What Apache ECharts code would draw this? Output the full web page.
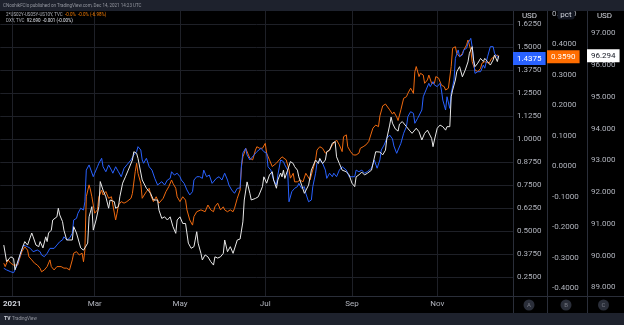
<!DOCTYPE html>
<html>
<head>
<meta charset="utf-8">
<script src="https://cdn.jsdelivr.net/npm/echarts@6/dist/echarts.min.js"></script>
<style>
  html, body { margin: 0; padding: 0; background: #000; }
  #chart { width: 624px; height: 325px; }
</style>
</head>
<body>
<div id="chart"></div>
<script>
// x values are days counted from 1 Jan 2021
const monthTicks = [0, 59, 120, 181, 243, 304];
const monthLabels = ['2021', 'Mar', 'May', 'Jul', 'Sep', 'Nov'];

const usdTicks = [0.25, 0.375, 0.5, 0.625, 0.75, 0.875, 1.0, 1.125, 1.25, 1.375, 1.5, 1.625];
const pctTicks = [-0.4, -0.3, -0.2, -0.1, 0, 0.1, 0.2, 0.3, 0.4, 0.5];
const dxyTicks = [89, 90, 91, 92, 93, 94, 95, 96, 97];

// blue line, USD scale (A)
const blueLine = [
[-6,0.299],[-4,0.290],[-1,0.280],[1,0.275],[2,0.290],[4,0.326],[6,0.380],[8,0.425],[9,0.435],[11,0.416],[13,0.407],[15,0.389],[16,0.398],[18,0.398],[20,0.389],[21,0.371],[23,0.362],[25,0.380],[27,0.407],[28,0.416],[30,0.407],[32,0.425],[34,0.443],[36,0.453],[37,0.470],[39,0.453],[41,0.462],[43,0.489],[44,0.561],[46,0.570],[47,0.597],[49,0.625],[51,0.615],[52,0.660],[53,0.832],[55,0.860],[56,0.850],[58,0.796],[59,0.815],[61,0.850],[62,0.869],[64,0.896],[65,0.850],[67,0.823],[69,0.860],[71,0.832],[72,0.815],[74,0.850],[76,0.823],[78,0.796],[80,0.842],[82,0.860],[83,0.850],[85,0.887],[87,0.914],[89,0.932],[90,0.959],[92,0.941],[93,0.887],[94,0.869],[96,0.896],[98,0.850],[100,0.832],[102,0.787],[104,0.751],[105,0.760],[107,0.769],[109,0.751],[111,0.778],[113,0.787],[114,0.823],[116,0.805],[118,0.815],[120,0.796],[121,0.778],[123,0.760],[125,0.724],[127,0.697],[129,0.715],[130,0.778],[132,0.796],[134,0.796],[136,0.787],[137,0.832],[139,0.796],[141,0.805],[143,0.760],[144,0.769],[146,0.787],[148,0.796],[150,0.778],[152,0.815],[154,0.778],[155,0.751],[157,0.724],[159,0.706],[161,0.733],[163,0.735],[164,0.860],[165,0.925],[167,0.950],[168,0.914],[170,0.887],[171,0.896],[173,0.914],[175,0.932],[176,0.932],[178,0.950],[180,0.932],[182,0.923],[183,0.850],[185,0.832],[187,0.778],[189,0.751],[190,0.805],[192,0.887],[194,0.878],[195,0.860],[197,0.832],[198,0.660],[200,0.715],[202,0.733],[204,0.742],[205,0.760],[207,0.733],[209,0.742],[210,0.706],[212,0.660],[214,0.670],[215,0.742],[217,0.815],[218,0.869],[220,0.887],[222,0.869],[224,0.832],[225,0.787],[227,0.815],[229,0.796],[230,0.815],[232,0.796],[234,0.832],[236,0.850],[237,0.842],[239,0.832],[241,0.796],[243,0.796],[245,0.796],[246,0.832],[248,0.823],[250,0.832],[252,0.815],[254,0.823],[255,0.832],[257,0.842],[259,0.887],[260,0.878],[261,0.842],[263,0.887],[264,0.941],[266,0.968],[268,1.005],[270,1.022],[272,1.001],[273,0.963],[275,0.923],[276,0.941],[278,0.977],[280,1.032],[282,1.068],[283,1.122],[285,1.149],[287,1.140],[288,1.086],[290,1.113],[291,1.122],[293,1.158],[294,1.230],[296,1.267],[298,1.303],[299,1.285],[301,1.312],[302,1.294],[304,1.285],[306,1.303],[307,1.267],[308,1.212],[310,1.158],[311,1.230],[313,1.167],[314,1.249],[316,1.321],[317,1.439],[319,1.484],[320,1.447],[322,1.457],[323,1.484],[325,1.493],[326,1.520],[328,1.547],[329,1.502],[330,1.430],[331,1.357],[333,1.366],[335,1.366],[337,1.402],[338,1.385],[340,1.447],[342,1.502],[344,1.502],[345,1.466],[347,1.447],[348,1.4375]
];

// orange line, pct scale (B)
const spreadLine = [
[-6,-0.318],[-5,-0.329],[-3,-0.307],[-1,-0.318],[1,-0.324],[2,-0.329],[4,-0.324],[5,-0.307],[7,-0.280],[9,-0.264],[11,-0.275],[12,-0.297],[14,-0.307],[16,-0.318],[18,-0.324],[20,-0.335],[21,-0.346],[23,-0.340],[25,-0.329],[27,-0.307],[28,-0.329],[30,-0.340],[32,-0.329],[33,-0.335],[35,-0.329],[37,-0.334],[38,-0.329],[39,-0.334],[41,-0.340],[43,-0.307],[44,-0.285],[46,-0.280],[48,-0.291],[50,-0.285],[51,-0.313],[52,-0.275],[53,-0.100],[55,-0.061],[56,-0.078],[57,-0.100],[59,-0.154],[61,-0.143],[62,-0.100],[64,-0.078],[65,-0.094],[67,-0.083],[69,-0.105],[71,-0.100],[72,-0.127],[74,-0.176],[75,-0.154],[76,-0.127],[78,-0.116],[80,-0.121],[82,-0.116],[83,-0.111],[85,-0.105],[86,-0.089],[88,-0.018],[89,0.010],[90,-0.023],[92,-0.056],[93,-0.105],[94,-0.111],[96,-0.083],[98,-0.072],[99,-0.094],[101,-0.116],[103,-0.100],[105,-0.121],[106,-0.127],[108,-0.105],[110,-0.083],[112,-0.067],[114,-0.045],[115,-0.056],[117,-0.072],[118,-0.100],[120,-0.116],[122,-0.100],[124,-0.111],[125,-0.143],[127,-0.176],[129,-0.193],[130,-0.165],[132,-0.149],[133,-0.149],[135,-0.143],[136,-0.138],[138,-0.149],[140,-0.127],[142,-0.143],[144,-0.149],[145,-0.133],[147,-0.121],[149,-0.143],[151,-0.133],[152,-0.143],[154,-0.149],[156,-0.143],[158,-0.149],[159,-0.138],[161,-0.105],[163,-0.078],[164,-0.001],[165,0.031],[166,0.043],[167,0.059],[168,0.062],[170,0.026],[172,0.021],[174,0.053],[175,0.064],[177,0.059],[179,0.059],[181,0.075],[182,0.043],[184,0.021],[186,-0.001],[187,0.004],[189,0.010],[191,0.021],[193,0.031],[194,0.037],[196,0.021],[198,-0.012],[199,-0.039],[201,-0.023],[202,-0.051],[204,-0.051],[206,-0.045],[208,-0.051],[210,-0.023],[211,-0.029],[213,-0.045],[215,-0.012],[217,0.021],[218,0.053],[220,0.064],[222,0.059],[224,0.043],[225,0.048],[227,0.053],[229,0.070],[230,0.075],[232,0.086],[234,0.070],[236,0.048],[237,0.097],[239,0.103],[240,0.064],[242,0.048],[244,0.037],[246,0.037],[248,0.043],[249,0.059],[251,0.064],[253,0.070],[255,0.081],[256,0.086],[258,0.125],[260,0.135],[262,0.130],[263,0.165],[265,0.198],[267,0.204],[268,0.204],[270,0.185],[272,0.171],[273,0.178],[275,0.162],[276,0.150],[277,0.145],[278,0.185],[279,0.190],[280,0.223],[282,0.228],[283,0.239],[285,0.256],[287,0.239],[288,0.310],[289,0.327],[291,0.294],[292,0.305],[294,0.299],[295,0.272],[297,0.283],[298,0.299],[300,0.272],[302,0.272],[303,0.294],[305,0.289],[307,0.266],[308,0.266],[309,0.261],[310,0.250],[312,0.256],[313,0.261],[314,0.327],[315,0.387],[317,0.392],[318,0.370],[320,0.359],[322,0.370],[323,0.381],[325,0.398],[326,0.414],[327,0.398],[328,0.381],[329,0.343],[331,0.316],[333,0.310],[335,0.321],[336,0.338],[338,0.343],[339,0.348],[341,0.338],[343,0.354],[345,0.359],[347,0.365],[348,0.359]
];

// white line, DXY scale (C)
const dxyLine = [
[-6,90.33],[-4,89.81],[-1,89.96],[1,89.91],[2,89.55],[3,89.49],[6,90.08],[9,90.44],[11,90.33],[12,90.27],[14,90.71],[15,90.59],[17,90.33],[19,90.28],[20,90.44],[22,90.24],[24,90.59],[25,90.44],[26,90.71],[28,90.80],[29,91.12],[32,91.22],[33,91.49],[34,91.28],[36,91.07],[37,90.80],[39,90.49],[40,90.44],[43,90.49],[44,90.91],[46,90.71],[49,90.24],[51,90.17],[52,90.24],[54,90.39],[55,91.22],[57,91.54],[58,90.80],[60,91.12],[62,91.54],[63,92.33],[65,92.06],[67,91.85],[69,91.49],[70,91.75],[73,91.70],[74,91.49],[76,91.54],[77,91.85],[79,92.28],[81,92.48],[83,92.69],[86,93.01],[87,93.27],[89,93.22],[90,93.06],[93,92.38],[94,92.43],[96,92.12],[99,91.96],[101,91.75],[102,91.70],[104,91.75],[105,91.43],[107,91.17],[109,91.22],[111,91.12],[113,91.22],[115,90.91],[117,90.70],[118,91.12],[120,91.22],[122,91.01],[124,91.01],[126,90.39],[128,90.23],[130,90.28],[132,90.75],[133,90.39],[135,90.07],[136,89.86],[138,90.02],[140,89.96],[142,89.81],[144,89.70],[145,89.96],[147,89.92],[149,89.96],[151,90.07],[152,90.49],[154,90.12],[156,90.28],[158,90.07],[159,90.12],[161,90.49],[163,90.52],[165,91.06],[166,91.75],[168,92.32],[170,91.96],[171,91.75],[174,91.80],[176,91.85],[179,92.17],[180,92.48],[182,92.28],[184,92.54],[186,92.64],[187,92.38],[189,92.12],[190,92.38],[192,92.60],[193,92.48],[194,92.69],[195,92.43],[197,92.69],[199,92.96],[201,92.90],[202,92.80],[204,92.69],[205,92.48],[207,92.22],[209,91.96],[210,92.01],[212,92.22],[214,92.69],[215,92.80],[217,93.01],[219,92.90],[220,93.06],[222,92.90],[224,93.01],[225,93.27],[227,93.32],[229,93.54],[231,93.59],[232,93.11],[234,92.90],[236,92.69],[237,92.75],[239,92.64],[241,92.54],[243,92.28],[245,92.17],[246,92.48],[248,92.54],[250,92.63],[252,92.54],[254,92.59],[255,92.54],[257,92.69],[260,93.27],[261,93.22],[263,93.26],[265,93.17],[267,93.32],[268,93.70],[270,94.11],[271,94.36],[272,94.17],[274,93.99],[276,93.92],[277,94.14],[279,94.22],[280,94.27],[282,94.06],[284,93.95],[286,93.85],[287,93.80],[289,94.01],[291,93.90],[293,93.64],[295,93.85],[297,93.95],[298,93.90],[300,93.69],[301,93.43],[302,93.64],[304,94.01],[306,94.11],[308,94.06],[310,93.95],[311,94.06],[313,94.06],[314,95.00],[315,95.21],[317,95.53],[318,95.79],[320,95.95],[322,95.63],[324,95.84],[326,96.10],[327,96.37],[329,96.58],[330,96.16],[331,95.95],[333,96.06],[335,96.21],[337,96.11],[338,96.21],[340,96.11],[342,96.00],[344,96.16],[345,96.32],[347,96.11],[348,96.294]
];

const FONT = 'Roboto, "Noto Sans", sans-serif';
const TEXT = '#b2b5be';
const PANEL = '#1e222d';
const BORDER = '#2a2e39';
const GRIDLINE = '#1e2027';
const BLUE = '#2962ff';
const ORANGE = '#f06a0f';
const WHITE = '#e8e8e8';

const lastValue = arr => arr[arr.length - 1][1];

// price tag drawn on an axis at the series' last value
function priceTag(value, bg, fg, digits) {
  return {
    show: true,
    type: 'line',
    value: value,
    status: 'show',
    snap: false,
    triggerTooltip: false,
    lineStyle: { color: 'rgba(0,0,0,0)', width: 0 },
    handle: { show: false },
    label: {
      show: true,
      margin: 0,
      backgroundColor: bg,
      color: fg,
      fontFamily: FONT,
      fontSize: 8,
      padding: [3, 4, 2, 4],
      borderRadius: 0,
      formatter: p => Number(p.value).toFixed(digits)
    }
  };
}

function valueAxis(opts) {
  return {
    type: 'value',
    position: 'right',
    offset: opts.offset,
    min: opts.min,
    max: opts.max,
    scale: true,
    axisLine: { show: false },
    axisTick: { show: false, customValues: opts.ticks },
    splitLine: { show: opts.grid, lineStyle: { color: GRIDLINE, width: 1 } },
    axisLabel: {
      customValues: opts.ticks,
      margin: opts.margin,
      color: TEXT,
      fontFamily: FONT,
      fontSize: 8,
      formatter: v => Number(v).toFixed(opts.digits)
    },
    axisPointer: priceTag(opts.last, opts.tagBg, opts.tagFg, opts.tagDigits)
  };
}

const chart = echarts.init(document.getElementById('chart'), null, { renderer: 'canvas' });

const option = {
  animation: false,
  backgroundColor: '#000000',
  tooltip: { show: false },
  axisPointer: { triggerOn: 'none' },
  grid: { left: 0, right: 111, top: 11, bottom: 29, containLabel: false },
  xAxis: {
    type: 'value',
    min: -8.5,
    max: 358.2,
    axisLine: { show: false },
    axisTick: { show: false, customValues: monthTicks },
    splitLine: { show: true, lineStyle: { color: GRIDLINE, width: 1 } },
    axisLabel: {
      customValues: monthTicks,
      margin: 4,
      color: TEXT,
      fontFamily: FONT,
      fontSize: 8,
      formatter: v => {
        const i = monthTicks.indexOf(v);
        return i === 0 ? '{yr|' + monthLabels[i] + '}' : monthLabels[i];
      },
      rich: { yr: { fontWeight: 'bold', color: '#d1d4dc', fontFamily: FONT, fontSize: 8 } }
    }
  },
  yAxis: [
    valueAxis({ offset: 0, min: 0.1485, max: 1.6955, ticks: usdTicks, grid: true, margin: 4, digits: 4,
                last: lastValue(blueLine), tagBg: BLUE, tagFg: '#ffffff', tagDigits: 4 }),
    valueAxis({ offset: 34, min: -0.4254, max: 0.5091, ticks: pctTicks, grid: false, margin: 5, digits: 4,
                last: lastValue(spreadLine), tagBg: '#ff6d00', tagFg: '#ffffff', tagDigits: 4 }),
    valueAxis({ offset: 74, min: 88.726, max: 97.703, ticks: dxyTicks, grid: false, margin: 4, digits: 3,
                last: lastValue(dxyLine), tagBg: '#ffffff', tagFg: '#131722', tagDigits: 3 })
  ],
  series: [
    { type: 'line', yAxisIndex: 1, data: spreadLine, showSymbol: false, smooth: false,
      lineStyle: { color: ORANGE, width: 1 }, z: 3 },
    { type: 'line', yAxisIndex: 0, data: blueLine, showSymbol: false, smooth: false,
      lineStyle: { color: BLUE, width: 1 }, z: 4 },
    { type: 'line', yAxisIndex: 2, data: dxyLine, showSymbol: false, smooth: false,
      lineStyle: { color: WHITE, width: 1 }, z: 5 }
  ],
  graphic: [
    // top bar with publication note
    { type: 'rect', shape: { x: 0, y: 0, width: 624, height: 11 }, style: { fill: PANEL }, z: 50 },
    { type: 'text', x: 3, y: 5.5, style: { text: 'CNoohikFClo published on TradingView.com, Dec 14, 2021 14:23 UTC',
      fill: '#9598a1', font: '4.5px ' + FONT, textVerticalAlign: 'middle' }, z: 51 },
    // bottom bar with logo
    { type: 'rect', shape: { x: 0, y: 313, width: 624, height: 12 }, style: { fill: PANEL }, z: 50 },
    { type: 'text', x: 4, y: 319, style: { text: 'TV', fill: '#d1d4dc', font: 'bold 5px ' + FONT, textVerticalAlign: 'middle' }, z: 51 },
    { type: 'text', x: 12, y: 319, style: { text: 'TradingView', fill: '#9598a1', font: '4.5px ' + FONT, textVerticalAlign: 'middle' }, z: 51 },
    // legend rows
    { type: 'text', x: 6, y: 14.5, style: { rich: {
        a: { fill: '#b2b5be', font: '4.5px ' + FONT },
        b: { fill: '#f57c00', font: '4.5px ' + FONT } },
      text: '{a|2*US02Y-US05Y-US10Y, TVC  }{b|-0.0%  -0.0% (-6.98%)}', textVerticalAlign: 'middle' }, z: 51 },
    { type: 'text', x: 6, y: 20.5, style: { rich: {
        a: { fill: '#b2b5be', font: '4.5px ' + FONT },
        b: { fill: '#e0e3eb', font: '4.5px ' + FONT } },
      text: '{a|DXY, TVC  }{b|92.690  -0.001 (-0.00%)}', textVerticalAlign: 'middle' }, z: 51 },
    // pane separators
    { type: 'line', shape: { x1: 513.5, y1: 11, x2: 513.5, y2: 313 }, style: { stroke: BORDER, lineWidth: 1 }, z: 40 },
    { type: 'line', shape: { x1: 547.5, y1: 11, x2: 547.5, y2: 313 }, style: { stroke: BORDER, lineWidth: 1 }, z: 40 },
    { type: 'line', shape: { x1: 587.5, y1: 11, x2: 587.5, y2: 313 }, style: { stroke: BORDER, lineWidth: 1 }, z: 40 },
    { type: 'line', shape: { x1: 0, y1: 296.5, x2: 624, y2: 296.5 }, style: { stroke: BORDER, lineWidth: 1 }, z: 40 },
    // scale captions
    { type: 'text', x: 529.5, y: 16, style: { text: 'USD', fill: '#d1d4dc', font: '8px ' + FONT, align: 'center',
      verticalAlign: 'middle', backgroundColor: '#000', padding: [1, 2] }, z: 45 },
    { type: 'text', x: 566, y: 14.5, style: { text: 'pct', fill: '#d1d4dc', font: '8px ' + FONT, align: 'center',
      verticalAlign: 'middle', backgroundColor: '#131722', borderRadius: 3, padding: [1, 3] }, z: 45 },
    { type: 'text', x: 604.5, y: 16, style: { text: 'USD', fill: '#d1d4dc', font: '8px ' + FONT, align: 'center',
      verticalAlign: 'middle' }, z: 45 },
    // scale buttons
    { type: 'circle', shape: { cx: 529, cy: 305, r: 5.5 }, style: { fill: BORDER }, z: 45 },
    { type: 'circle', shape: { cx: 566, cy: 305, r: 5.5 }, style: { fill: BORDER }, z: 45 },
    { type: 'circle', shape: { cx: 603.5, cy: 305, r: 5.5 }, style: { fill: BORDER }, z: 45 },
    { type: 'text', x: 529, y: 305, style: { text: 'A', fill: '#787b86', font: '6px ' + FONT, align: 'center', verticalAlign: 'middle' }, z: 46 },
    { type: 'text', x: 566, y: 305, style: { text: 'B', fill: '#787b86', font: '6px ' + FONT, align: 'center', verticalAlign: 'middle' }, z: 46 },
    { type: 'text', x: 603.5, y: 305, style: { text: 'C', fill: '#787b86', font: '6px ' + FONT, align: 'center', verticalAlign: 'middle' }, z: 46 }
  ]
};

chart.setOption(option);
</script>
</body>
</html>
